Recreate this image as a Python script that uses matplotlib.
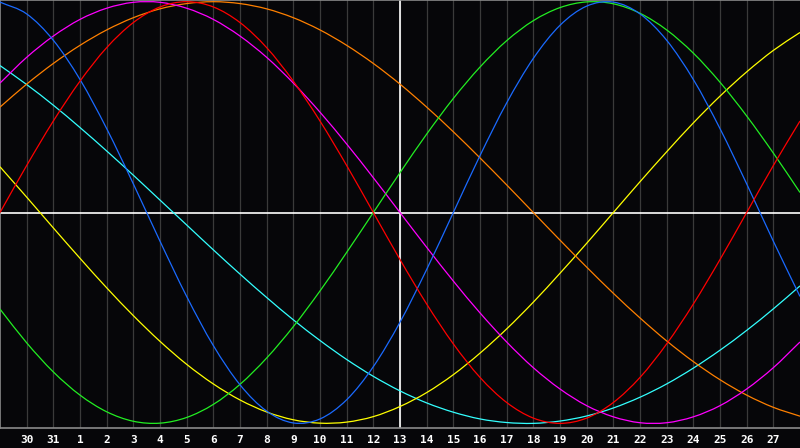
import numpy as np
import matplotlib
matplotlib.use("Agg")
from matplotlib import pyplot as plt
from matplotlib.path import Path
from matplotlib.patches import PathPatch

# day index 0..30 across the plot (-1..1)
days = np.arange(31)
day_labels = ['30', '31'] + [str(i) for i in range(1, 28)]
label_pos = np.arange(1, 30)

red = [0.000, 0.223, 0.434, 0.623, 0.782, 0.901, 0.975, 1.000, 0.975, 0.901,
       0.782, 0.623, 0.434, 0.223, 0.000, -0.223, -0.434, -0.623, -0.782, -0.901,
       -0.975, -1.000, -0.975, -0.901, -0.782, -0.623, -0.434, -0.223, 0.000, 0.223,
       0.434]
blue = [0.998, 0.942, 0.817, 0.631, 0.398, 0.136, -0.136, -0.398, -0.631, -0.817,
        -0.942, -0.998, -0.979, -0.888, -0.731, -0.520, -0.270, 0.000, 0.270, 0.520,
        0.731, 0.888, 0.979, 0.998, 0.942, 0.817, 0.631, 0.398, 0.136, -0.136,
        -0.398]
green = [-0.458, -0.618, -0.756, -0.866, -0.945, -0.990, -0.999, -0.972, -0.910, -0.815,
         -0.690, -0.541, -0.372, -0.189, 0.000, 0.189, 0.372, 0.541, 0.690, 0.815,
         0.910, 0.972, 0.999, 0.990, 0.945, 0.866, 0.756, 0.618, 0.458, 0.282,
         0.095]
magenta = [0.614, 0.736, 0.837, 0.916, 0.969, 0.997, 0.997, 0.969, 0.916, 0.837,
           0.736, 0.614, 0.476, 0.325, 0.165, 0.000, -0.165, -0.325, -0.476, -0.614,
           -0.736, -0.837, -0.916, -0.969, -0.997, -0.997, -0.969, -0.916, -0.837, -0.736,
           -0.614]
orange = [0.500, 0.609, 0.707, 0.793, 0.866, 0.924, 0.966, 0.991, 1.000, 0.991,
          0.966, 0.924, 0.866, 0.793, 0.707, 0.609, 0.500, 0.383, 0.259, 0.131,
          0.000, -0.131, -0.259, -0.383, -0.500, -0.609, -0.707, -0.793, -0.866, -0.924,
          -0.966]
yellow = [0.217, 0.073, -0.073, -0.217, -0.357, -0.489, -0.611, -0.720, -0.813, -0.889,
          -0.946, -0.983, -0.999, -0.994, -0.968, -0.920, -0.854, -0.769, -0.667, -0.552,
          -0.425, -0.288, -0.146, 0.000, 0.146, 0.288, 0.425, 0.552, 0.667, 0.769,
          0.854]
cyan = [0.697, 0.607, 0.509, 0.403, 0.292, 0.177, 0.059, -0.059, -0.177, -0.292,
        -0.403, -0.509, -0.607, -0.697, -0.777, -0.846, -0.903, -0.947, -0.979, -0.996,
        -1.000, -0.989, -0.965, -0.927, -0.876, -0.813, -0.738, -0.653, -0.559, -0.457,
        -0.348]


def smooth_path(x, y):
    # catmull-rom through the points, as bezier segments
    p = np.column_stack([x, y]).astype(float)
    ext = np.vstack([2*p[0] - p[1], p, 2*p[-1] - p[-2]])
    verts = [p[0]]
    codes = [Path.MOVETO]
    for i in range(1, len(ext) - 2):
        c1 = ext[i] + (ext[i+1] - ext[i-1]) / 6
        c2 = ext[i+1] - (ext[i+2] - ext[i]) / 6
        verts += [c1, c2, ext[i+1]]
        codes += [Path.CURVE4] * 3
    return Path(verts, codes)


bg = '#060609'
fig = plt.figure(figsize=(8, 4.48), dpi=100, facecolor=bg)
ax = fig.add_axes([0, 20/448, 1, 428/448], facecolor=bg)

for x in range(1, 30):
    ax.axvline(x, color='#3a3a3a', lw=0.9, zorder=1)
ax.axhline(0, color='white', lw=1.2, zorder=2)
ax.axvline(15, color='white', lw=1.2, zorder=2)

series = [(cyan, '#33ffff'), (yellow, '#ffff00'), (orange, '#ff8000'),
          (magenta, '#ff00ff'), (green, '#22ee22'), (blue, '#1a6aff'),
          (red, '#ff0000')]
for vals, col in series:
    ax.add_patch(PathPatch(smooth_path(days, vals), fill=False,
                           edgecolor=col, lw=0.9, zorder=3))

ax.set_xlim(0, 30)
ax.set_ylim(-1.022, 1.008)
ax.set_yticks([])
ax.set_xticks(label_pos)
ax.set_xticklabels(day_labels, color='white', fontsize=8,
                   family='DejaVu Sans Mono', fontweight='bold')
ax.tick_params(axis='x', length=0, pad=5)
for s in ['left', 'top', 'bottom']:
    ax.spines[s].set_color('#8a8a8a')
    ax.spines[s].set_linewidth(1.2)
ax.spines['right'].set_visible(False)

fig.savefig('out.png', dpi=100, facecolor=bg)
